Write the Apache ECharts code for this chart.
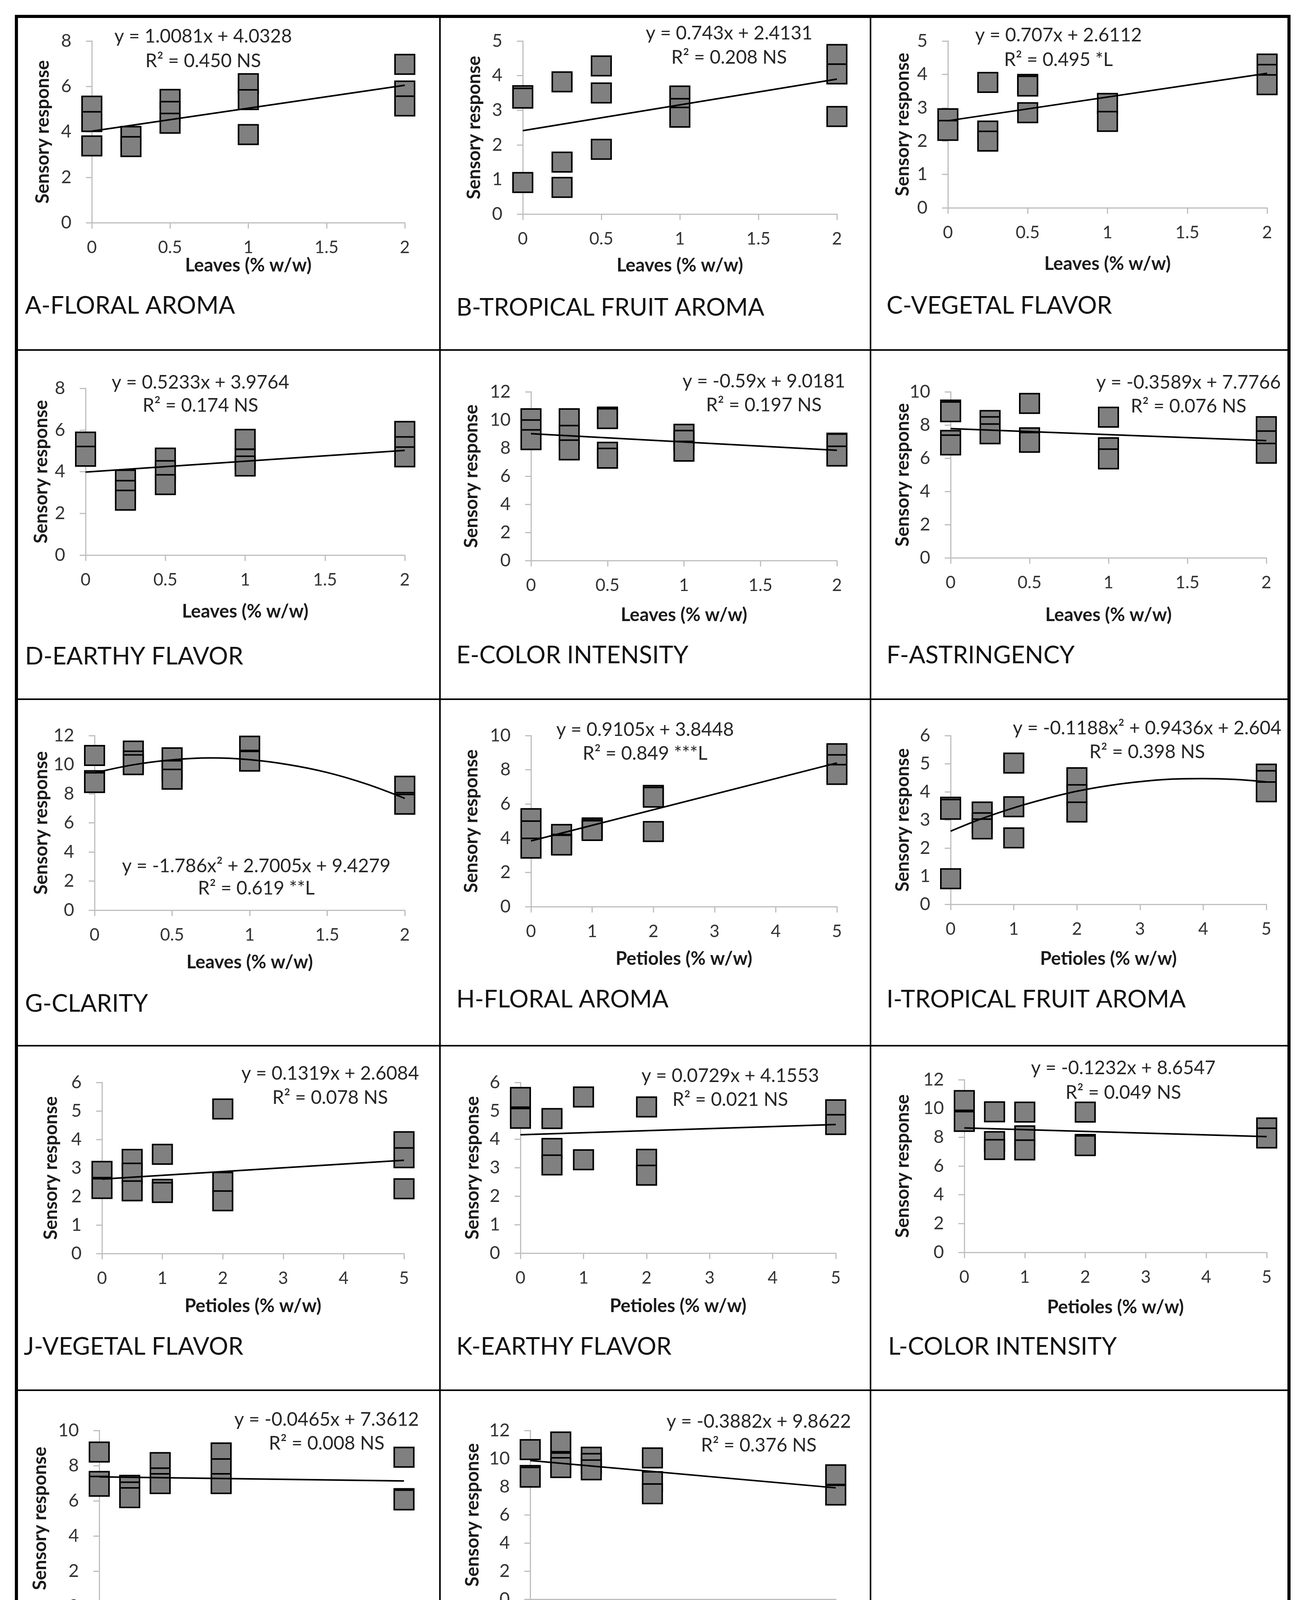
<!DOCTYPE html>
<html><head><meta charset="utf-8">
<script src="https://cdn.jsdelivr.net/npm/echarts@6/dist/echarts.min.js"></script>
<style>html,body{margin:0;padding:0;background:#fff}#c{width:3340px;height:4467px}</style>
</head><body><div id="c"></div>
<script>
// ---------------- DATA ----------------
const leavesX = [0, 0.25, 0.5, 1, 2];
const petiolesX = [0, 0.5, 1, 2, 5];

// replicate scores at each dose level (same order as the x levels)
const A_floralLeaves   = [[5.13,4.45,3.38],[3.8,3.35],[5.43,4.9,4.38],[6.12,5.42,3.88],[6.97,5.8,5.14]];
const B_tropicalLeaves = [[3.42,3.35,0.91],[3.82,1.5,0.77],[4.28,3.5,1.87],[3.41,3.05,2.8],[4.61,4.05,2.82]];
const C_vegetalLeaves  = [[2.67,2.32],[3.76,2.3,2.0],[3.7,3.65,2.85],[3.13,2.59],[4.31,4.0,3.69]];
const D_earthyLeaves   = [[5.42,4.74],[3.6,3.1,2.63],[4.65,4.05,3.38],[5.55,4.6,4.27],[5.93,5.2,4.71]];
const E_colorLeaves    = [[10.08,9.3,8.6],[10.08,8.9,7.87],[10.2,10.1,7.7,7.28],[8.98,8.55,7.78],[8.35,8.3,7.43]];
const F_astrLeaves     = [[8.9,8.8,7.07,6.8],[8.27,7.9,7.47],[9.3,7.23,6.96],[8.47,6.63,5.96],[7.9,7.05,6.3]];
const G_clarityLeaves  = [[10.63,8.9,8.77],[10.93,10.25,10.0],[10.47,9.6,9.0],[11.27,10.3,10.24],[8.52,7.4,7.28]];
const H_floralPet      = [[5.14,4.43,3.42],[4.22,3.65,3.6],[4.6,4.5,4.45],[6.5,6.4,4.39],[8.94,8.3,7.73]];
const I_tropicalPet    = [[3.45,3.38,0.91],[3.28,2.9,2.68],[5.02,3.47,2.36],[4.5,3.9,3.28],[4.63,4.4,4.0]];
const J_vegetalPet     = [[2.88,2.32,2.28],[3.3,2.82,2.2],[3.48,2.25,2.14],[5.07,2.5,1.85],[3.92,3.36,2.27]];
const K_earthyPet      = [[5.47,4.78,4.74],[4.73,3.68,3.1],[5.49,3.28],[5.14,3.3,2.74],[5.04,4.52]];
const L_colorPet       = [[10.55,9.15,9.1],[9.77,7.7,7.15],[9.75,8.1,7.12],[9.75,7.5,7.42],[8.65,7.95]];
const M_astrPet        = [[8.77,7.1,6.83],[6.88,6.5,6.18],[8.17,7.3,6.98],[8.72,7.82,6.98],[8.48,6.12,6.05]];
const N_clarityPet     = [[10.64,8.8,8.68],[11.18,9.7,9.36],[10.1,9.65,9.2],[10.05,8.36,7.5],[8.85,7.45,7.41]];

// fitted trend lines
const A_fit = [[0,4.03],[2,6.05]];
const B_fit = [[0,2.41],[2,3.90]];
const C_fit = [[0,2.61],[2,4.03]];
const D_fit = [[0,3.98],[2,5.02]];
const E_fit = [[0,9.02],[2,7.84]];
const F_fit = [[0,7.78],[2,7.06]];
const G_fit = [[0,9.43],[0.25,9.99],[0.5,10.33],[0.75,10.46],[1,10.34],[1.25,10.0],[1.5,9.46],[1.75,8.68],[2,7.68]];
const H_fit = [[0,3.84],[5,8.40]];
const I_fit = [[0,2.60],[0.5,3.05],[1,3.43],[1.5,3.75],[2,4.02],[2.5,4.22],[3,4.36],[3.5,4.45],[4,4.47],[4.5,4.44],[5,4.35]];
const J_fit = [[0,2.61],[5,3.27]];
const K_fit = [[0,4.16],[5,4.52]];
const L_fit = [[0,8.65],[5,8.04]];
const M_fit = [[0,7.36],[5,7.13]];
const N_fit = [[0,9.86],[5,7.92]];

const panelTitles = ['A-FLORAL AROMA','B-TROPICAL FRUIT AROMA','C-VEGETAL FLAVOR','D-EARTHY FLAVOR','E-COLOR INTENSITY','F-ASTRINGENCY','G-CLARITY','H-FLORAL AROMA','I-TROPICAL FRUIT AROMA','J-VEGETAL FLAVOR','K-EARTHY FLAVOR','L-COLOR INTENSITY','M-ASTRINGENCY','N-CLARITY'];
const equations = ['y = 1.0081x + 4.0328','y = 0.743x + 2.4131','y = 0.707x + 2.6112','y = 0.5233x + 3.9764','y = -0.59x + 9.0181','y = -0.3589x + 7.7766','y = -1.786x\u00B2 + 2.7005x + 9.4279','y = 0.9105x + 3.8448','y = -0.1188x\u00B2 + 0.9436x + 2.604','y = 0.1319x + 2.6084','y = 0.0729x + 4.1553','y = -0.1232x + 8.6547','y = -0.0465x + 7.3612','y = -0.3882x + 9.8622'];
const r2Texts = ['R\u00B2 = 0.450 NS','R\u00B2 = 0.208 NS','R\u00B2 = 0.495 *L','R\u00B2 = 0.174 NS','R\u00B2 = 0.197 NS','R\u00B2 = 0.076 NS','R\u00B2 = 0.619 **L','R\u00B2 = 0.849 ***L','R\u00B2 = 0.398 NS','R\u00B2 = 0.078 NS','R\u00B2 = 0.021 NS','R\u00B2 = 0.049 NS','R\u00B2 = 0.008 NS','R\u00B2 = 0.376 NS'];
const yMaxes    = [8,5,5,8,12,10,12,10,6,6,6,12,10,12];
const yIntervals= [2,1,1,2,2,2,2,2,1,1,1,2,2,2];
const xNameLeaves = 'Leaves (% w/w)';
const xNamePetioles = 'Petioles (% w/w)';
const yName = 'Sensory response';

// ---------------- LAYOUT ----------------
const panels = [
 {d:A_floralLeaves, f:A_fit, xs:'L', g:[235,105,1036,570],  yg:102, xg:86,  eq:[520,94,157],   lab:[64,783]},
 {d:B_tropicalLeaves,f:B_fit,xs:'L', g:[1338,105,2142,548], yg:101, xg:108, eq:[1866,86,148],  lab:[1168,788]},
 {d:C_vegetalLeaves,f:C_fit, xs:'L', g:[2426,105,3243,532], yg:92,  xg:120, eq:[2709,91,154],  lab:[2269,783]},
 {d:D_earthyLeaves, f:D_fit, xs:'L', g:[219,994,1036,1421], yg:90,  xg:121, eq:[513,980,1039], lab:[64,1681]},
 {d:E_colorLeaves,  f:E_fit, xs:'L', g:[1359,1003,2142,1435],yg:129,xg:116, eq:[1955,977,1038],lab:[1168,1678]},
 {d:F_astrLeaves,   f:F_fit, xs:'L', g:[2433,1003,3241,1428],yg:99, xg:123, eq:[3042,980,1041],lab:[2269,1678]},
 {d:G_clarityLeaves,f:G_fit, xs:'L', g:[242,1883,1036,2330], yg:113,xg:110, eq:[656,2218,2275],lab:[64,2570], smooth:true},
 {d:H_floralPet,    f:H_fit, xs:'P', g:[1359,1883,2142,2321],yg:129,xg:110, eq:[1651,1869,1930],lab:[1168,2559]},
 {d:I_tropicalPet,  f:I_fit, xs:'P', g:[2433,1883,3241,2315],yg:99, xg:116, eq:[2936,1865,1926],lab:[2269,2559], smooth:true},
 {d:J_vegetalPet,   f:J_fit, xs:'P', g:[261,2771,1034,3209], yg:107,xg:111, eq:[845,2749,2811],lab:[61,3448]},
 {d:K_earthyPet,    f:K_fit, xs:'P', g:[1332,2771,2139,3208],yg:99, xg:112, eq:[1869,2755,2816],lab:[1168,3448]},
 {d:L_colorPet,     f:L_fit, xs:'P', g:[2468,2764,3242,3206],yg:134,xg:117, eq:[2875,2735,2798],lab:[2273,3448]},
 {d:M_astrPet,      f:M_fit, xs:'P', g:[254,3662,1034,4112], yg:128,xg:115, eq:[836,3635,3696],lab:[65,4356]},
 {d:N_clarityPet,   f:N_fit, xs:'P', g:[1357,3662,2139,4094],yg:124,xg:116, eq:[1942,3640,3701],lab:[1168,4336]}
];

const FONT = 'Lato, "Open Sans", sans-serif';
const grids=[], xAxes=[], yAxes=[], series=[], graphics=[];
const axisGray = '#bfbfbf';

panels.forEach((p,i)=>{
  const [x1,y1,x2,y2] = p.g;
  grids.push({left:x1, top:y1, width:x2-x1, height:y2-y1, containLabel:false, outerBoundsMode:'none'});
  const isL = p.xs==='L';
  const xs = isL ? leavesX : petiolesX;
  xAxes.push({
    type:'value', gridIndex:i, min:0, max:isL?2:5, interval:isL?0.5:1,
    axisLine:{show:true,onZero:false,lineStyle:{color:axisGray,width:3}},
    axisTick:{show:true,length:15,lineStyle:{color:axisGray,width:3}},
    splitLine:{show:false},
    axisLabel:{fontSize:44,color:'#333333',margin:42,fontFamily:FONT},
    name:isL?xNameLeaves:xNamePetioles, nameLocation:'middle', nameGap:p.xg, nameMoveOverlap:false,
    nameTextStyle:{fontSize:47,fontWeight:'bold',color:'#1a1a1a',fontFamily:FONT}
  });
  yAxes.push({
    type:'value', gridIndex:i, min:0, max:yMaxes[i], interval:yIntervals[i],
    axisLine:{show:true,onZero:false,lineStyle:{color:axisGray,width:3}},
    axisTick:{show:true,length:15,lineStyle:{color:axisGray,width:3}},
    splitLine:{show:false},
    axisLabel:{fontSize:46,color:'#333333',margin:52,fontFamily:FONT},
    name:yName, nameLocation:'middle', nameGap:p.yg, nameMoveOverlap:false,
    nameTextStyle:{fontSize:47,fontWeight:'bold',color:'#1a1a1a',fontFamily:FONT}
  });
  const pts=[];
  p.d.forEach((reps,k)=>reps.forEach(v=>pts.push([xs[k],v])));
  series.push({type:'scatter', xAxisIndex:i, yAxisIndex:i, data:pts, symbol:'rect', symbolSize:50,
    itemStyle:{color:'#808080',borderColor:'#000',borderWidth:4,opacity:1}, z:2, silent:true});
  series.push({type:'line', xAxisIndex:i, yAxisIndex:i, data:p.f, showSymbol:false, smooth:p.smooth?0.4:false,
    lineStyle:{color:'#000',width:4}, z:3, silent:true});
  graphics.push({type:'text', x:p.eq[0], y:p.eq[1], style:{text:equations[i], fontSize:48, fontFamily:FONT, fill:'#262626', align:'center', verticalAlign:'middle'}});
  graphics.push({type:'text', x:p.eq[0], y:p.eq[2], style:{text:r2Texts[i], fontSize:48, fontFamily:FONT, fill:'#262626', align:'center', verticalAlign:'middle'}});
  graphics.push({type:'text', x:p.lab[0], y:p.lab[1], style:{text:panelTitles[i], fontSize:62, fontFamily:FONT, fill:'#111', align:'left', verticalAlign:'middle'}});
});

// frame
graphics.push({type:'rect', shape:{x:42,y:42,width:3257,height:4388}, style:{fill:'none',stroke:'#000',lineWidth:8}, z:10});
[1126,2228].forEach(x=>graphics.push({type:'line', shape:{x1:x,y1:42,x2:x,y2:4430}, style:{stroke:'#000',lineWidth:4}, z:10}));
[896,1790,2677,3559].forEach(y=>graphics.push({type:'line', shape:{x1:42,y1:y,x2:3299,y2:y}, style:{stroke:'#000',lineWidth:4}, z:10}));

const chart = echarts.init(document.getElementById('c'), null, {renderer:'canvas', width:3340, height:4467});
chart.setOption({
  backgroundColor:'#ffffff', animation:false,
  grid:grids, xAxis:xAxes, yAxis:yAxes, series:series, graphic:graphics
});
</script></body></html>
